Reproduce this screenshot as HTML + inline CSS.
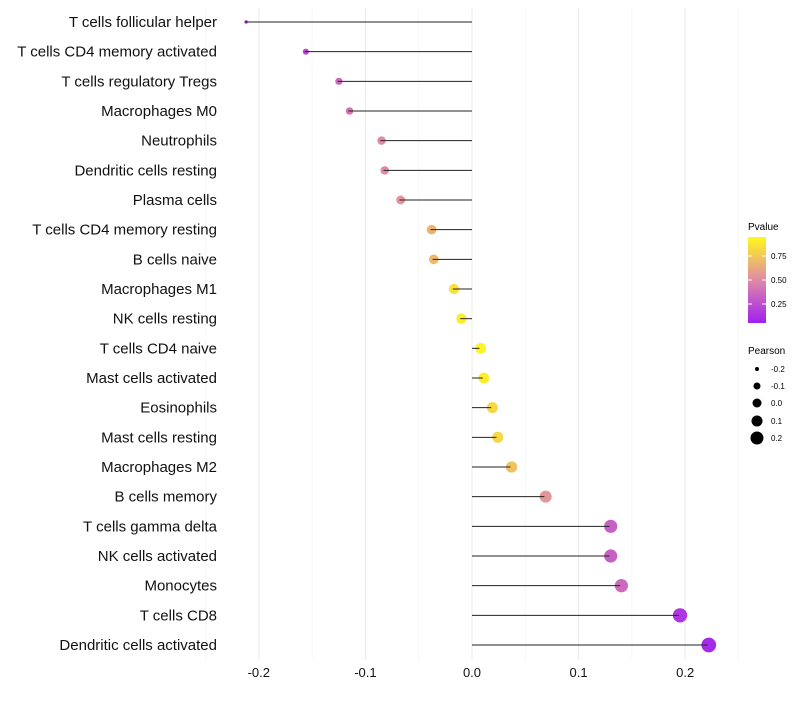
<!DOCTYPE html>
<html><head><meta charset="utf-8"><style>
body{margin:0;background:#fff;font-family:"Liberation Sans",sans-serif}
svg text{font-family:"Liberation Sans",sans-serif}
</style></head><body>
<svg id="c" width="800" height="700">
<defs><linearGradient id="g" x1="0" y1="1" x2="0" y2="0">
<stop offset="0" stop-color="#A020F0"/><stop offset="0.5" stop-color="#E08AA8"/><stop offset="1" stop-color="#FFF81A"/></linearGradient></defs>
<g id="grid"></g><g id="points"></g><g id="stems"></g><g id="labels"></g><g id="xticks"></g>
<g>
<text x="748" y="230" font-size="10">Pvalue</text>
<rect x="748" y="237" width="18" height="86" fill="url(#g)"/>
<line x1="748" x2="752" y1="256" y2="256" stroke="#fff"/><line x1="762" x2="766" y1="256" y2="256" stroke="#fff"/>
<line x1="748" x2="752" y1="280" y2="280" stroke="#fff"/><line x1="762" x2="766" y1="280" y2="280" stroke="#fff"/>
<line x1="748" x2="752" y1="304" y2="304" stroke="#fff"/><line x1="762" x2="766" y1="304" y2="304" stroke="#fff"/>
<text x="771" y="259" font-size="8">0.75</text><text x="771" y="283" font-size="8">0.50</text><text x="771" y="307" font-size="8">0.25</text>
</g>
<g>
<text x="748" y="354" font-size="10">Pearson</text>
<circle cx="757" cy="369" r="2"/><text x="771" y="372" font-size="8">-0.2</text>
<circle cx="757" cy="386" r="3.5"/><text x="771" y="389" font-size="8">-0.1</text>
<circle cx="757" cy="403" r="4.5"/><text x="771" y="406" font-size="8">0.0</text>
<circle cx="757" cy="421" r="5.5"/><text x="771" y="424" font-size="8">0.1</text>
<circle cx="757" cy="438" r="6.5"/><text x="771" y="441" font-size="8">0.2</text>
</g>
</svg>
<script>
const cells=["T cells follicular helper","T cells CD4 memory activated","T cells regulatory  Tregs ","Macrophages M0","Neutrophils","Dendritic cells resting","Plasma cells","T cells CD4 memory resting","B cells naive","Macrophages M1","NK cells resting","T cells CD4 naive","Mast cells activated","Eosinophils","Mast cells resting","Macrophages M2","B cells memory","T cells gamma delta","NK cells activated","Monocytes","T cells CD8","Dendritic cells activated"];
const pearson=[-0.213,-0.157,-0.126,-0.116,-0.086,-0.083,-0.068,-0.039,-0.037,-0.018,-0.011,0.007,0.010,0.018,0.023,0.036,0.068,0.129,0.129,0.139,0.194,0.221];
const pvalue=[0.08,0.2,0.35,0.4,0.5,0.5,0.55,0.7,0.72,0.9,0.95,0.98,0.95,0.85,0.85,0.75,0.55,0.3,0.3,0.35,0.1,0.05];
const xTicks=[-0.2,-0.1,0.0,0.1,0.2];
const xTickLabels=["-0.2","-0.1","0.0","0.1","0.2"];
const NS="http://www.w3.org/2000/svg";
const x=v=>472+v*1066, y=i=>22+i*(623/21), r=v=>Math.sqrt(Math.max(1,2.9+(v+0.213)*118));
function mk(t,a,p){const e=document.createElementNS(NS,t);for(const k in a)e.setAttribute(k,a[k]);p.appendChild(e);return e;}
function lerp(a,b,t){return a.map((c,i)=>Math.round(c+(b[i]-c)*t));}
function col(p){const P=[160,32,240],M=[224,138,168],Y=[255,248,26];const c=p<0.5?lerp(P,M,p/0.5):lerp(M,Y,(p-0.5)/0.5);return`rgb(${c})`;}
const grid=document.getElementById('grid'),pts=document.getElementById('points'),stems=document.getElementById('stems'),labels=document.getElementById('labels'),xt=document.getElementById('xticks');
for(let k=-5;k<=5;k++){const v=k*0.05;const l=mk('line',{x1:x(v),x2:x(v),y1:8,y2:660,stroke:k%2?'#f4f4f4':'#ebebeb','stroke-width':k%2?0.7:1},grid);

}
xTicks.forEach((v,i)=>{const t=mk('text',{x:x(v),y:677,'font-size':13,'text-anchor':'middle',fill:'#111'},xt);t.textContent=xTickLabels[i];

});
cells.forEach((c,i)=>{const t=mk('text',{x:217,y:y(i)+5,'font-size':15,'text-anchor':'end',fill:'#111','xml:space':'preserve'},labels);t.textContent=c;


const d=mk('circle',{cx:x(pearson[i])+1.2,cy:y(i),r:r(pearson[i]),fill:col(pvalue[i])},pts);


const l=mk('line',{x1:x(0),x2:x(pearson[i]),y1:y(i),y2:y(i),stroke:'#222','stroke-width':1},stems);

});
</script>
</body></html>
